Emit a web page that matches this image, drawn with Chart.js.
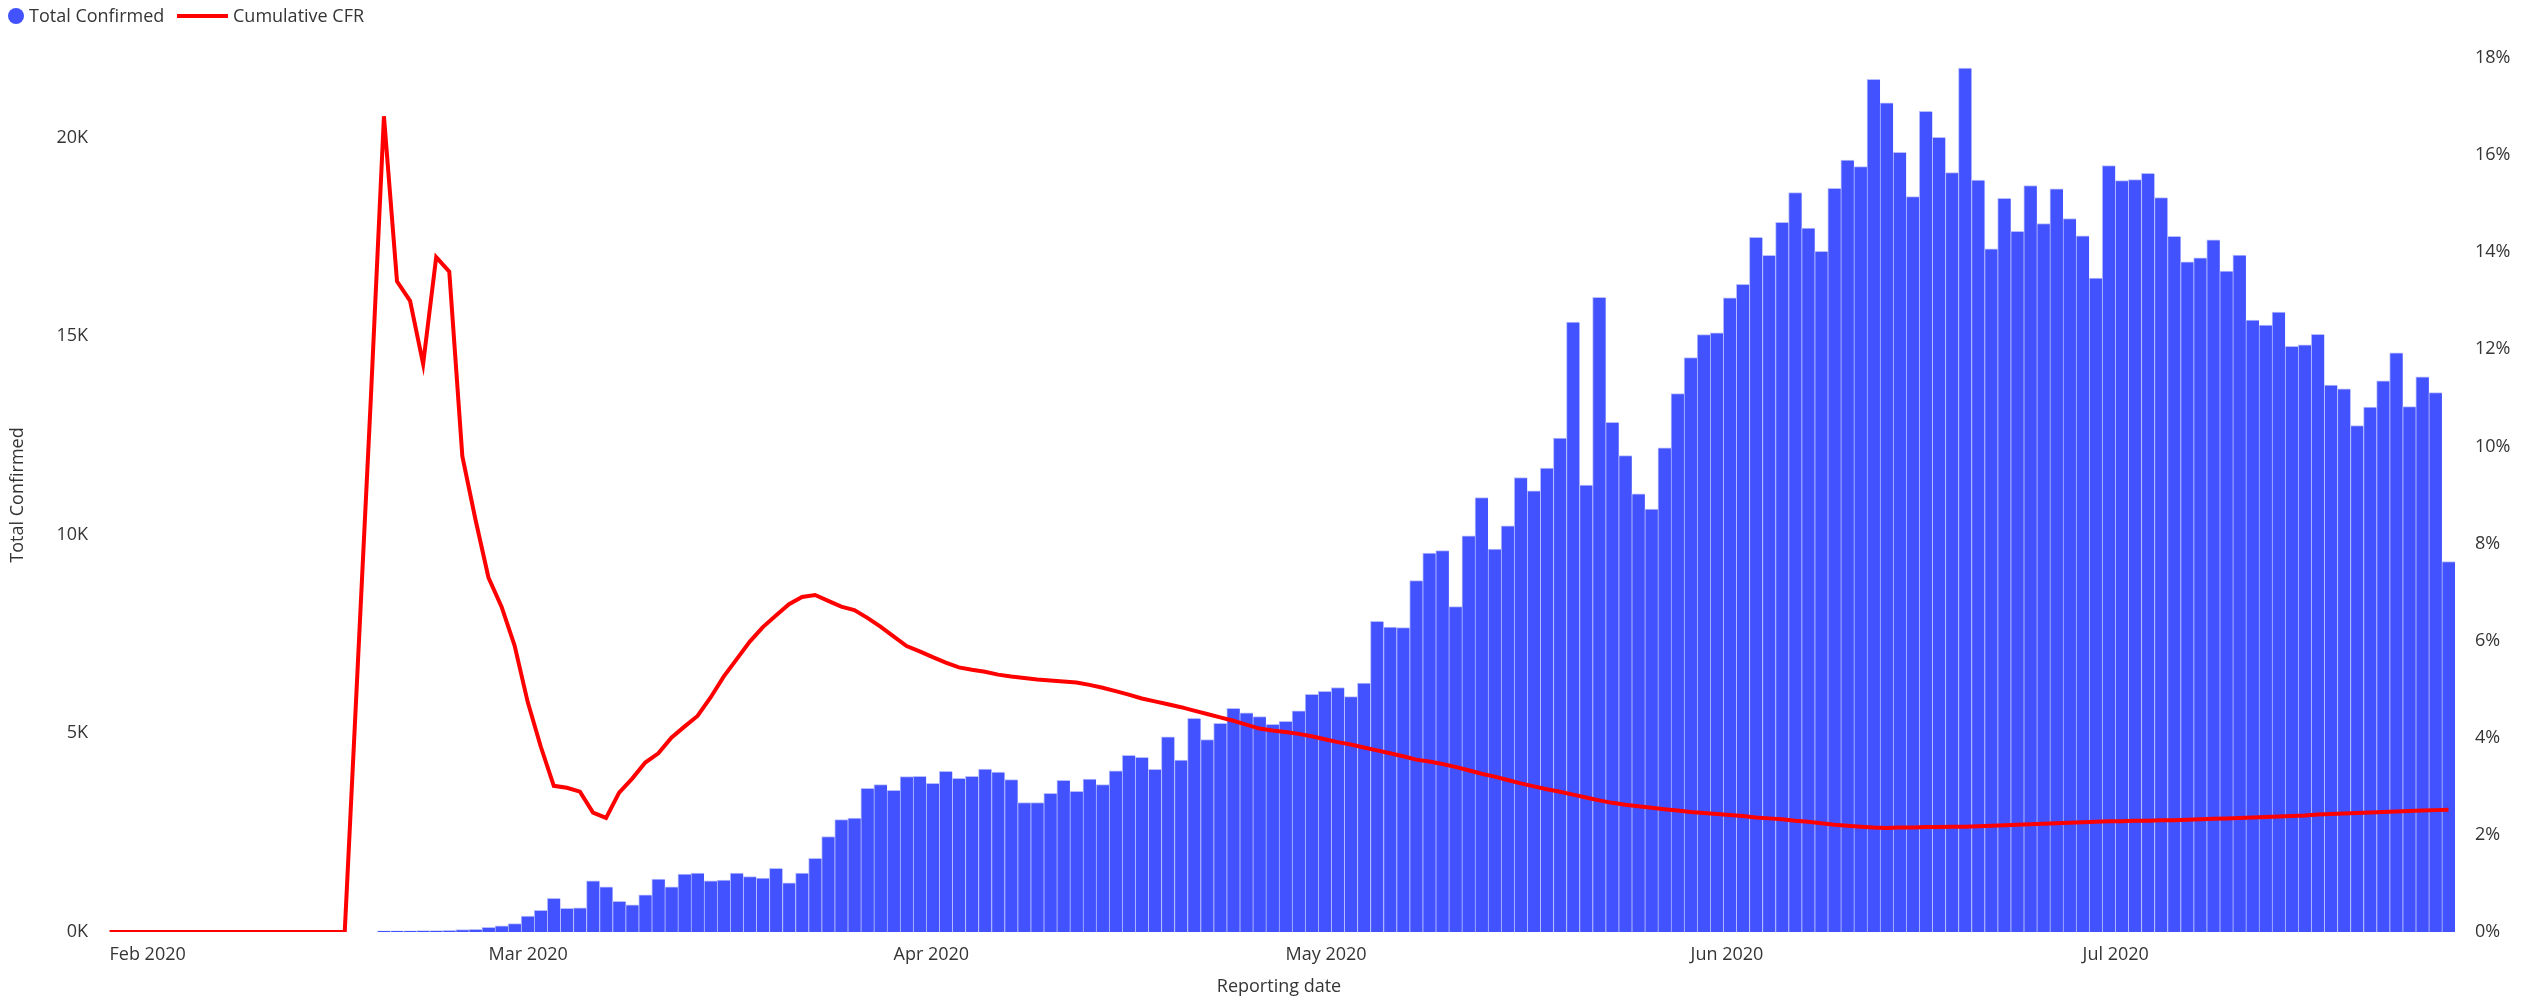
<!DOCTYPE html>
<html>
<head>
<meta charset="utf-8">
<script src="https://cdn.jsdelivr.net/npm/chart.js@4.4.1/dist/chart.umd.min.js"></script>
<style>
    html, body { margin: 0; padding: 0; background: #ffffff; }
    .grafico-container { position: relative; width: 2522px; height: 1004px; }
</style>
</head>
<body>
<div class="grafico-container"><canvas id="graficoCFR"></canvas></div>
<script>
// Datas de reporte: 1 fev 2020 ate 29 jul 2020 (dia a dia)
const primeiraData = "2020-02-01";
const totalDias = 180;
const nomesMeses = ["Jan", "Feb", "Mar", "Apr", "May", "Jun", "Jul", "Aug", "Sep", "Oct", "Nov", "Dec"];

// Casos confirmados por dia (sem dados ate 21 fev)
const totalConfirmed = [
    null, null, null, null, null, null, null, null, null, null,
    null, null, null, null, null, null, null, null, null, null, null,
    30, 30, 30, 35, 35, 40, 60, 70, 120, 155, 210,
    400, 545, 850, 595, 610, 1285, 1135, 770, 685,
    935, 1330, 1135, 1455, 1485, 1285, 1310, 1485, 1395, 1355,
    1605, 1235, 1480, 1855, 2405, 2830, 2865, 3615, 3710, 3565,
    3910, 3920, 3745, 4045, 3870, 3920, 4100, 4025, 3835, 3260,
    3260, 3490, 3820, 3540, 3850, 3710, 4060, 4445, 4395, 4095,
    4910, 4325, 5380, 4845, 5255, 5630, 5515, 5420, 5230, 5305,
    5565, 5980, 6055, 6155, 5925, 6265, 7820, 7675, 7660, 8845,
    9540, 9600, 8190, 9975, 10935, 9640, 10225, 11440, 11105, 11680,
    12430, 15355, 11250, 15975, 12830, 11990, 11030, 10645, 12190, 13550,
    14460, 15035, 15085, 15965, 16305, 17485, 17030, 17865, 18610, 17720,
    17135, 18720, 19430, 19265, 21460, 20870, 19625, 18510, 20660, 20000,
    19115, 21745, 18930, 17195, 18470, 17635, 18790, 17835, 18705, 17960,
    17525, 16460, 19295, 18915, 18940, 19095, 18485, 17510, 16870, 16970,
    17425, 16635, 17040, 15405, 15280, 15605, 14745, 14780, 15045, 13765,
    13675, 12750, 13210, 13875, 14580, 13225, 13975, 13575, 9325
];

// CFR acumulado (%)
const cumulativeCFR = [
    0, 0, 0, 0, 0, 0, 0, 0, 0, 0,
    0, 0, 0, 0, 0, 0, 0, 0, 0,
    5.5, 11.0, 16.8, 13.4, 13.0, 11.7, 13.9, 13.6, 9.8, 8.5, 7.3, 6.7,
    5.9, 4.74, 3.82, 3.01, 2.97, 2.89, 2.46, 2.35, 2.87, 3.16,
    3.49, 3.68, 4.0, 4.23, 4.45, 4.83, 5.26, 5.62, 5.98, 6.28,
    6.52, 6.75, 6.9, 6.94, 6.82, 6.7, 6.63, 6.47, 6.29, 6.09,
    5.89, 5.78, 5.66, 5.55, 5.45, 5.4, 5.36, 5.3, 5.26, 5.23,
    5.2, 5.18, 5.16, 5.14, 5.09, 5.03, 4.96, 4.89, 4.81, 4.75,
    4.69, 4.63, 4.56, 4.49, 4.42, 4.35, 4.27, 4.19, 4.15, 4.12,
    4.08, 4.03, 3.97, 3.91, 3.86, 3.8, 3.74, 3.68, 3.62, 3.55,
    3.51, 3.46, 3.4, 3.33, 3.26, 3.2, 3.13, 3.06, 3.0, 2.94,
    2.89, 2.83, 2.77, 2.71, 2.66, 2.62, 2.59, 2.56, 2.53, 2.5,
    2.47, 2.45, 2.43, 2.41, 2.39, 2.36, 2.34, 2.32, 2.29, 2.27,
    2.24, 2.21, 2.19, 2.17, 2.15, 2.14, 2.15, 2.15, 2.16, 2.16,
    2.17, 2.17, 2.18, 2.19, 2.2, 2.21, 2.22, 2.23, 2.24, 2.25,
    2.26, 2.27, 2.28, 2.28, 2.29, 2.29, 2.3, 2.3, 2.31, 2.32,
    2.33, 2.34, 2.35, 2.36, 2.37, 2.38, 2.39, 2.4, 2.42, 2.43,
    2.44, 2.45, 2.46, 2.47, 2.48, 2.49, 2.5, 2.51, 2.52
];

// Ticks dos eixos
const ticksConfirmed = [0, 5000, 10000, 15000, 20000];
const ticksCFR = [0, 2, 4, 6, 8, 10, 12, 14, 16, 18];

const corBarras = "#4252ff";
const corLinha = "#ff0000";
const corTexto = "#353535";
const fonte = "'Open Sans', 'Noto Sans', sans-serif";

const datas = [];
const inicio = new Date(primeiraData + "T00:00:00Z");
for (let i = 0; i < totalDias; i++) {
    const d = new Date(inicio.getTime() + i * 86400000);
    datas.push(d.toISOString().slice(0, 10));
}

function rotuloMes(dataIso) {
    if (dataIso.slice(8, 10) !== "01") return null;
    const mes = parseInt(dataIso.slice(5, 7), 10) - 1;
    return nomesMeses[mes] + " " + dataIso.slice(0, 4);
}

// legenda desenhada no topo, igual ao Power BI
const legendaPlugin = {
    id: "legenda",
    afterDraw(chart) {
        const ctx = chart.ctx;
        const y = 16;
        ctx.save();
        ctx.font = "18px " + fonte;
        ctx.textBaseline = "middle";

        ctx.fillStyle = corBarras;
        ctx.beginPath();
        ctx.arc(16, y, 8, 0, Math.PI * 2);
        ctx.fill();
        ctx.fillStyle = corTexto;
        ctx.fillText(chart.data.datasets[1].label, 29, y + 1);

        ctx.strokeStyle = corLinha;
        ctx.lineWidth = 4;
        ctx.beginPath();
        ctx.moveTo(177, y);
        ctx.lineTo(228, y);
        ctx.stroke();
        ctx.fillText(chart.data.datasets[0].label, 233, y + 1);
        ctx.restore();
    }
};

const canvas = document.getElementById("graficoCFR");

const graficoCFR = new Chart(canvas, {
    data: {
        labels: datas,
        datasets: [
            {
                type: "line",
                label: "Cumulative CFR",
                data: cumulativeCFR,
                yAxisID: "yCFR",
                borderColor: corLinha,
                borderWidth: 4,
                pointRadius: 0,
                tension: 0,
                order: 0
            },
            {
                type: "bar",
                label: "Total Confirmed",
                data: totalConfirmed,
                yAxisID: "yConfirmed",
                backgroundColor: corBarras,
                borderColor: "rgba(175, 183, 255, 0.9)",
                borderWidth: { left: 1, right: 0, top: 1, bottom: 0 },
                borderSkipped: "bottom",
                barPercentage: 1,
                categoryPercentage: 1,
                order: 1
            }
        ]
    },
    options: {
        responsive: true,
        maintainAspectRatio: false,
        animation: false,
        layout: { padding: { top: 58, left: 0, right: 0, bottom: 0 } },
        plugins: {
            legend: { display: false },
            tooltip: { enabled: false }
        },
        scales: {
            x: {
                type: "category",
                offset: true,
                grid: { display: false, drawTicks: false },
                border: { display: false },
                ticks: {
                    autoSkip: false,
                    maxRotation: 0,
                    minRotation: 0,
                    align: "start",
                    padding: 12,
                    color: corTexto,
                    font: { family: fonte, size: 18 },
                    callback: function (valor, indice) {
                        return rotuloMes(datas[indice]);
                    }
                },
                title: {
                    display: true,
                    text: "Reporting date",
                    color: corTexto,
                    font: { family: fonte, size: 18 },
                    padding: { top: 0, bottom: 6 }
                },
                afterFit(escala) { escala.height = 72; }
            },
            yConfirmed: {
                type: "linear",
                position: "left",
                min: 0,
                max: 22000,
                grid: { display: false, drawTicks: false },
                border: { display: false },
                afterBuildTicks(escala) {
                    escala.ticks = ticksConfirmed.map(v => ({ value: v }));
                },
                ticks: {
                    padding: 15,
                    color: corTexto,
                    font: { family: fonte, size: 18 },
                    callback: v => (v / 1000) + "K"
                },
                title: {
                    display: true,
                    text: "Total Confirmed",
                    color: corTexto,
                    font: { family: fonte, size: 18 },
                    padding: { top: 7, bottom: 0 }
                },
                afterFit(escala) { escala.width = 103; }
            },
            yCFR: {
                type: "linear",
                position: "right",
                min: 0,
                max: 18,
                grid: { display: false, drawTicks: false },
                border: { display: false },
                afterBuildTicks(escala) {
                    escala.ticks = ticksCFR.map(v => ({ value: v }));
                },
                ticks: {
                    padding: 20,
                    color: corTexto,
                    font: { family: fonte, size: 18 },
                    callback: v => v + "%"
                },
                afterFit(escala) { escala.width = 67; }
            }
        }
    },
    plugins: [legendaPlugin]
});
</script>
</body>
</html>
